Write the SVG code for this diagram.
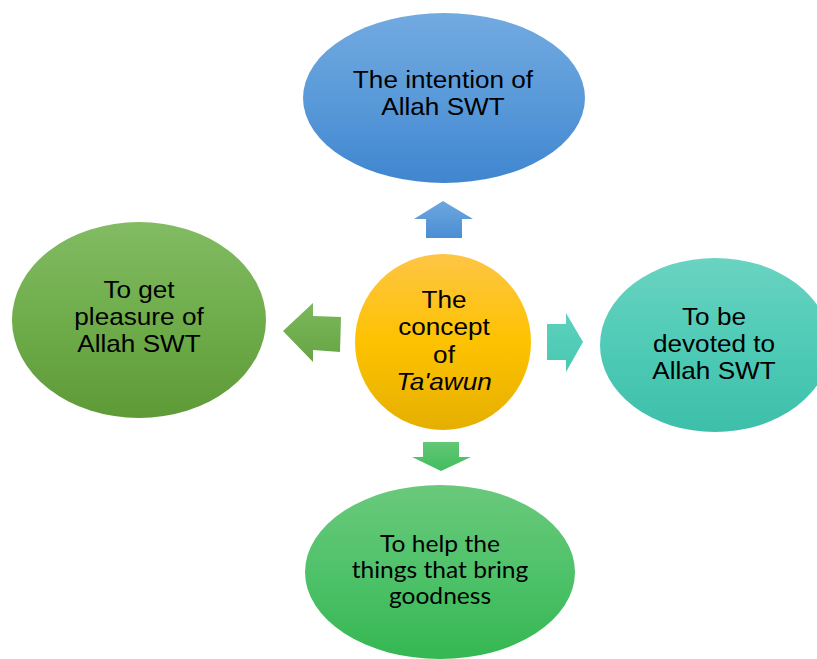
<svg xmlns="http://www.w3.org/2000/svg" width="817" height="659" viewBox="0 0 817 659">
<defs>
<linearGradient id="gBlue" x1="0" y1="0" x2="0" y2="1"><stop offset="0" stop-color="#72aae0"/><stop offset="0.5" stop-color="#5a9ad9"/><stop offset="1" stop-color="#3f86d0"/></linearGradient>
<linearGradient id="gLeft" x1="0" y1="0" x2="0" y2="1"><stop offset="0" stop-color="#82bb63"/><stop offset="0.5" stop-color="#6fad4b"/><stop offset="1" stop-color="#5e9a36"/></linearGradient>
<linearGradient id="gRight" x1="0" y1="0" x2="0" y2="1"><stop offset="0" stop-color="#6ad3c1"/><stop offset="0.5" stop-color="#4fcbb6"/><stop offset="1" stop-color="#3dbfaa"/></linearGradient>
<linearGradient id="gBottom" x1="0" y1="0" x2="0" y2="1"><stop offset="0" stop-color="#6ac97b"/><stop offset="0.5" stop-color="#4fc26a"/><stop offset="1" stop-color="#35b752"/></linearGradient>
<linearGradient id="gCenter" x1="0" y1="0" x2="0" y2="1"><stop offset="0" stop-color="#fec545"/><stop offset="0.5" stop-color="#fdc200"/><stop offset="1" stop-color="#e5af00"/></linearGradient>
<linearGradient id="aBlue" x1="0" y1="0" x2="0" y2="1"><stop offset="0" stop-color="#6ea7df"/><stop offset="1" stop-color="#4a8ed4"/></linearGradient>
<linearGradient id="aLeft" x1="0" y1="0" x2="0" y2="1"><stop offset="0" stop-color="#7ab85b"/><stop offset="1" stop-color="#66a444"/></linearGradient>
<linearGradient id="aRight" x1="0" y1="0" x2="0" y2="1"><stop offset="0" stop-color="#5dd1bd"/><stop offset="1" stop-color="#48c8b2"/></linearGradient>
<linearGradient id="aBottom" x1="0" y1="0" x2="0" y2="1"><stop offset="0" stop-color="#62c775"/><stop offset="1" stop-color="#42bd5e"/></linearGradient>
</defs>
<style>
.t{font-family:"Liberation Sans",Arial,sans-serif;font-size:24px;fill:#000;text-anchor:middle}
.c{font-family:Lato,"Liberation Sans",sans-serif;font-size:23px;fill:#000;text-anchor:middle}
</style>
<rect width="817" height="659" fill="#ffffff"/>
<g id="connectors">
<polygon points="443,201 473,219 462,219 462,238 426,238 426,219 414,219" fill="url(#aBlue)"/>
<polygon points="283,331 313,303 313,316 341,317 340,352 313,350 313,362" fill="url(#aLeft)"/>
<polygon points="547,324 566,324 566,313 583,342 566,372 566,360 547,360" fill="url(#aRight)"/>
<polygon points="423,442 459,442 459,457 471,457 441,471 412,457 423,457" fill="url(#aBottom)"/>
</g>
<g id="node-top">
<ellipse cx="444" cy="98" rx="141" ry="85" fill="url(#gBlue)"/>
<g transform="translate(443 0) scale(1.09 1)">
<text class="t" x="0" y="88">The intention of</text>
<text class="t" x="0" y="115">Allah SWT</text>
</g>
</g>
<g id="node-left">
<ellipse cx="139" cy="320" rx="127" ry="98" fill="url(#gLeft)"/>
<g transform="translate(139 0) scale(1.09 1)">
<text class="t" x="0" y="298">To get</text>
<text class="t" x="0" y="325">pleasure of</text>
<text class="t" x="0" y="352">Allah SWT</text>
</g>
</g>
<g id="node-right">
<ellipse cx="715" cy="345" rx="115" ry="87" fill="url(#gRight)"/>
<g transform="translate(714 0) scale(1.09 1)">
<text class="t" x="0" y="325">To be</text>
<text class="t" x="0" y="352">devoted to</text>
<text class="t" x="0" y="379">Allah SWT</text>
</g>
</g>
<g id="node-bottom">
<ellipse cx="440" cy="572" rx="135" ry="87" fill="url(#gBottom)"/>
<g transform="translate(440 0) scale(1.07 1)">
<text class="c" x="0" y="552">To help the</text>
<text class="c" x="0" y="578">things that bring</text>
<text class="c" x="0" y="604">goodness</text>
</g>
</g>
<g id="node-center">
<circle cx="443" cy="342" r="88" fill="url(#gCenter)"/>
<g transform="translate(444 0) scale(1.09 1)">
<text class="t" x="0" y="308">The</text>
<text class="t" x="0" y="335">concept</text>
<text class="t" x="0" y="363">of</text>
<text class="t" x="0" y="390" font-style="italic">Ta'awun</text>
</g>
</g>
</svg>
